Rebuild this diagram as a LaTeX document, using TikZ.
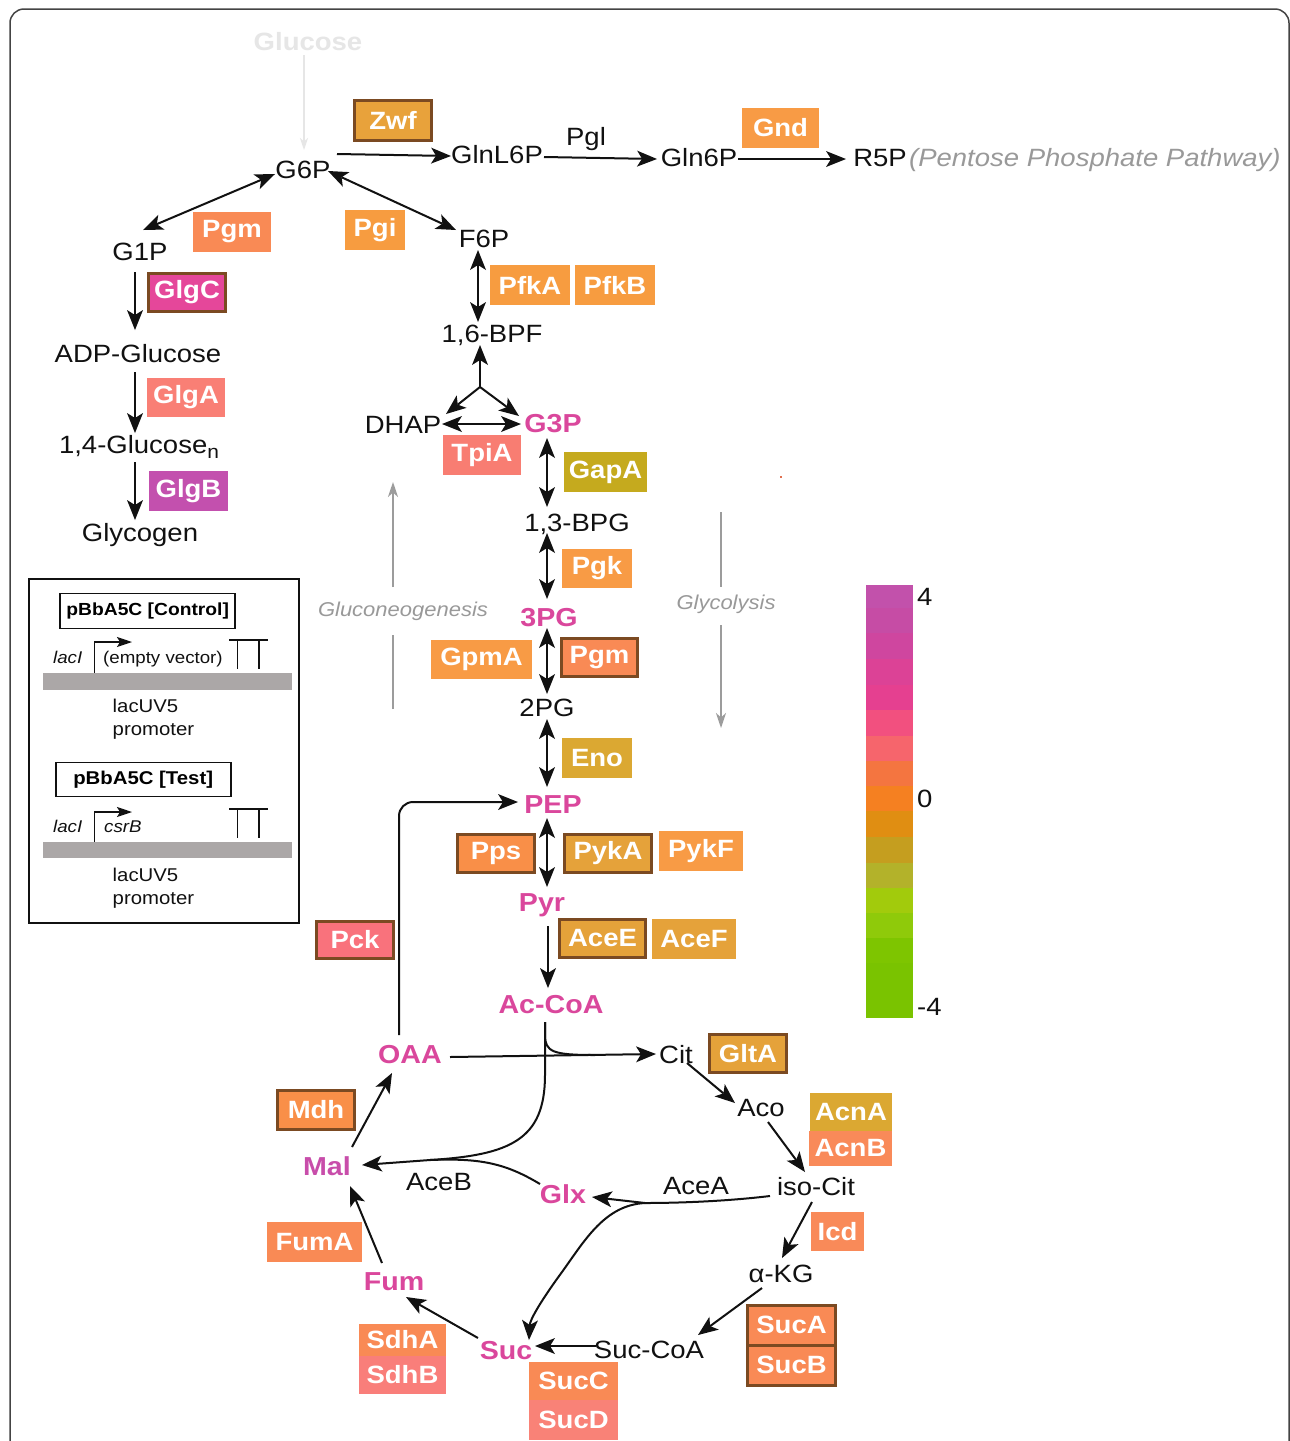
\documentclass[tikz,border=0pt]{standalone}
\usepackage{fontspec}
\setmainfont{Liberation Sans}[FakeStretch=1.1]
\usetikzlibrary{arrows.meta,calc}
\definecolor{brd}{HTML}{7B4A22}
\definecolor{mag}{HTML}{DA479C}
\definecolor{magp}{HTML}{C84DAA}
\definecolor{gtxt}{HTML}{999999}
\definecolor{gline}{HTML}{9C9C9C}
\definecolor{faint}{HTML}{E6E6E6}
\definecolor{ink}{HTML}{111111}
\definecolor{frame}{HTML}{444444}
\definecolor{dnabar}{HTML}{ABA7A7}
\definecolor{cZwf}{HTML}{E8A23B}
\definecolor{cOr}{HTML}{F89B45}
\definecolor{cSal}{HTML}{F98A55}
\definecolor{cPgi}{HTML}{F79C40}
\definecolor{cGlgC}{HTML}{E5479A}
\definecolor{cGlgA}{HTML}{F97F75}
\definecolor{cGlgB}{HTML}{C350AE}
\definecolor{cTpi}{HTML}{F87D72}
\definecolor{cGap}{HTML}{C5AA1E}
\definecolor{cEno}{HTML}{DBA832}
\definecolor{cPps}{HTML}{F98F48}
\definecolor{cGold}{HTML}{E5A23A}
\definecolor{cPck}{HTML}{F9727C}
\definecolor{cAcnB}{HTML}{F98A59}
\definecolor{cSucD}{HTML}{F98277}
\definecolor{cSdhB}{HTML}{F97E7A}
\definecolor{cDot}{HTML}{E07050}
\tikzset{
  met/.style={font=\fontsize{25}{30}\selectfont, text=ink, inner sep=2pt, anchor=base},
  mgt/.style={font=\bfseries\fontsize{26}{30}\selectfont, text=mag, inner sep=2pt, anchor=base},
  gtx/.style={font=\itshape\fontsize{20}{24}\selectfont, text=gtxt, inner sep=2pt, anchor=base},
  enz/.style={font=\bfseries\fontsize{25}{30}\selectfont, text=white, inner sep=0pt, anchor=center},
  bb/.style={draw=brd, line width=3pt},
  hd/.tip={Stealth[length=20pt,width=16pt,inset=5pt,line width=0pt]},
  arr/.style={line width=2pt, draw=ink, -hd},
  darr/.style={line width=2pt, draw=ink, hd-hd},
  ln/.style={line width=2pt, draw=ink},
  garr/.style={line width=2pt, draw=gline, -{Stealth[length=15pt,width=10pt,inset=4.5pt]}},
  gln/.style={line width=2pt, draw=gline},
  small/.style={font=\fontsize{18.5}{22}\selectfont, text=ink, inner sep=0pt},
  ptitle/.style={draw=ink, line width=1.6pt, font=\bfseries\fontsize{17.5}{22}\selectfont, inner sep=0pt},
}
\begin{document}
\begin{tikzpicture}[x=1pt,y=-1pt]
\useasboundingbox (0,0) rectangle (1290,1441);
\clip (0,0) rectangle (1290,1441);
\fill[white] (0,0) rectangle (1290,1441);
\draw[frame, line width=1.5pt, rounded corners=14pt] (10,9) rectangle (1289,1500);

% ---------- metabolites ----------
\node[met, font=\bfseries\fontsize{25}{30}\selectfont, text=faint] (glucose) at (308,50) {Glucose};
\node[met] (g6p) at (303,178) {G6P};
\node[met] (glnl) at (497,163) {GlnL6P};
\node[met] (pgl) at (586,145) {Pgl};
\node[met] (gln6p) at (699,166) {Gln6P};
\node[met] (r5p) at (880,166) {R5P};
\node[met, anchor=base west, inner sep=0pt, text=gtxt, font=\itshape\fontsize{25}{30}\selectfont] (ppp) at (r5p.base east) {(Pentose Phosphate Pathway)};
\node[met] (g1p) at (140,260) {G1P};
\node[met] (f6p) at (484,247) {F6P};
\node[met] (bpf) at (492,342) {1,6-BPF};
\node[met] (adp) at (138,362) {ADP-Glucose};
\node[met] (glc) at (139,453) {1,4-Glucose\raisebox{-5pt}{\fontsize{19}{19}\selectfont n}};
\node[met] (glyc) at (140,541) {Glycogen};
\node[met] (dhap) at (403,433) {DHAP};
\node[mgt] (g3p) at (553,432) {G3P};
\node[met] (bpg) at (577,531) {1,3-BPG};
\node[mgt] (pg3) at (549,626) {3PG};
\node[met] (pg2) at (547,716) {2PG};
\node[mgt] (pep) at (553,813) {PEP};
\node[mgt] (pyr) at (542,911) {Pyr};
\node[mgt] (accoa) at (551,1013) {Ac-CoA};
\node[mgt] (oaa) at (410,1063) {OAA};
\node[met] (cit) at (676,1063) {Cit};
\node[met] (aco) at (761,1116) {Aco};
\node[met] (isocit) at (816,1195) {iso-Cit};
\node[met] (acea) at (696,1194) {AceA};
\node[met] (akg) at (781,1282) {α-KG};
\node[met] (succoa) at (649,1358) {Suc-CoA};
\node[mgt] (suc) at (506,1359) {Suc};
\node[mgt] (fum) at (394,1290) {Fum};
\node[mgt, text=magp] (mal) at (327,1175) {Mal};
\node[met] (aceb) at (439,1190) {AceB};
\node[mgt] (glx) at (563,1203) {Glx};

% ---------- enzyme boxes ----------
\node[enz, bb, fill=cZwf, minimum width=77pt, minimum height=40pt] (zwf) at (393,120.5) {Zwf};
\node[enz, fill=cOr, minimum width=77pt, minimum height=40pt] (gnd) at (780.5,128) {Gnd};
\node[enz, fill=cSal, minimum width=78pt, minimum height=40pt] (pgm1) at (232,232) {Pgm};
\node[enz, fill=cPgi, minimum width=60pt, minimum height=40pt] (pgi) at (375,230) {Pgi};
\node[enz, bb, fill=cGlgC, minimum width=77pt, minimum height=38pt] (glgc) at (187,292.5) {GlgC};
\node[enz, fill=cGlgA, minimum width=78pt, minimum height=39pt] (glga) at (186,397.5) {GlgA};
\node[enz, fill=cGlgB, minimum width=79pt, minimum height=40pt] (glgb) at (188.5,491) {GlgB};
\node[enz, fill=cPgi, minimum width=80pt, minimum height=40pt] (pfka) at (530,285) {PfkA};
\node[enz, fill=cPgi, minimum width=80pt, minimum height=40pt] (pfkb) at (615,285) {PfkB};
\node[enz, fill=cTpi, minimum width=78pt, minimum height=40pt] (tpia) at (482,455) {TpiA};
\node[enz, fill=cGap, minimum width=83pt, minimum height=40pt] (gapa) at (605.5,472) {GapA};
\node[enz, fill=cOr, minimum width=70pt, minimum height=39pt] (pgk) at (597,568.5) {Pgk};
\node[enz, fill=cOr, minimum width=101pt, minimum height=39pt] (gpma) at (481.5,659.5) {GpmA};
\node[enz, bb, fill=cSal, minimum width=76pt, minimum height=38pt] (pgm2) at (599.5,657.5) {Pgm};
\node[enz, fill=cEno, minimum width=70pt, minimum height=40pt] (eno) at (597,758) {Eno};
\node[enz, bb, fill=cPps, minimum width=77pt, minimum height=38pt] (pps) at (496,853.5) {Pps};
\node[enz, bb, fill=cGold, minimum width=87pt, minimum height=38pt] (pyka) at (608,853.5) {PykA};
\node[enz, fill=cOr, minimum width=84pt, minimum height=40pt] (pykf) at (701,851) {PykF};
\node[enz, bb, fill=cGold, minimum width=86pt, minimum height=38pt] (acee) at (602.5,938.5) {AceE};
\node[enz, fill=cGold, minimum width=84pt, minimum height=40pt] (acef) at (694,939) {AceF};
\node[enz, bb, fill=cPck, minimum width=77pt, minimum height=37pt] (pck) at (355,940) {Pck};
\node[enz, bb, fill=cGold, minimum width=77pt, minimum height=38pt] (glta) at (748,1053.5) {GltA};
\node[enz, fill=cEno, minimum width=82pt, minimum height=38pt] (acna) at (851,1112) {AcnA};
\node[enz, fill=cAcnB, minimum width=83pt, minimum height=35pt] (acnb) at (850.5,1148.5) {AcnB};
\node[enz, fill=cAcnB, minimum width=53pt, minimum height=39pt] (icd) at (837.5,1231.5) {Icd};
\node[enz, bb, fill=cSal, minimum width=88pt, minimum height=40pt] (suca) at (791.5,1325) {SucA};
\node[enz, bb, fill=cSal, minimum width=88pt, minimum height=40pt] (sucb) at (791.5,1365) {SucB};
\node[enz, fill=cSal, minimum width=89pt, minimum height=38pt] (succ) at (573.5,1381) {SucC};
\node[enz, fill=cSucD, minimum width=89pt, minimum height=40pt] (sucd) at (573.5,1420) {SucD};
\node[enz, fill=cSal, minimum width=87pt, minimum height=32pt] (sdha) at (402.5,1340) {SdhA};
\node[enz, fill=cSdhB, minimum width=87pt, minimum height=38pt] (sdhb) at (402.5,1375) {SdhB};
\node[enz, fill=cSal, minimum width=95pt, minimum height=40pt] (fuma) at (314.5,1242) {FumA};
\node[enz, bb, fill=cPps, minimum width=77pt, minimum height=39pt] (mdh) at (316,1110) {Mdh};

% ---------- connectors: upper part ----------
\draw[faint, line width=1.5pt, -{Stealth[length=12pt,width=8pt,inset=3.5pt]}] ($(glucose.base)+(-4,5)$) -- ($(g6p.base)+(1,-28)$);
\draw[arr] ($(g6p.base)+(34,-24)$) -- ($(glnl.base)+(-46,-7)$);
\draw[arr] ($(glnl.base)+(47,-6)$) -- ($(gln6p.base)+(-42,-7)$);
\draw[arr] ($(gln6p.base)+(39,-7)$) -- ($(r5p.base)+(-34,-7)$);
\draw[darr] ($(g6p.base)+(-28,-4)$) -- ($(g1p.base)+(3,-30)$);
\draw[darr] ($(g6p.base)+(25,-7)$) -- ($(f6p.base)+(-28,-17)$);
\draw[darr] ($(f6p.base)+(-6,3)$) -- ($(bpf.base)+(-14,-20)$);
\coordinate (jn) at (480,387);
\draw[arr] (jn) -- ($(bpf.base)+(-12,3)$);
\draw[arr] (jn) -- ($(dhap.base)+(43,-19)$);
\draw[arr] (jn) -- ($(g3p.base)+(-34,-16)$);
\draw[darr] ($(dhap.base)+(39,-9)$) -- ($(g3p.base)+(-32,-8)$);
\draw[darr] ($(g3p.base)+(-6,6)$) -- ($(bpg.base)+(-30,-24)$);
\draw[darr] ($(bpg.base)+(-30,2)$) -- ($(pg3.base)+(-2,-27)$);
\draw[darr] ($(pg3.base)+(-2,2)$) -- ($(pg2.base)+(0,-22)$);
\draw[darr] ($(pg2.base)+(0,3)$) -- ($(pep.base)+(-6,-26)$);
\draw[darr] ($(pep.base)+(-6,5)$) -- ($(pyr.base)+(5,-24)$);
\draw[arr] ($(pyr.base)+(6,15)$) -- ($(accoa.base)+(-3,-25)$);
\draw[arr] ($(g1p.base)+(-5,12)$) -- ($(adp.base)+(-3,-32)$);
\draw[arr] ($(adp.base)+(-3,10)$) -- ($(glc.base)+(-4,-20)$);
\draw[arr] ($(glc.base)+(-4,9)$) -- ($(glyc.base)+(-5,-21)$);

% ---------- connectors: TCA ----------
\draw[arr, rounded corners=14pt] ($(oaa.base)+(-11,-28)$) |- ($(pep.base)+(-35,-11)$);
\draw[ln] ($(accoa.base)+(-6,9)$) -- (545,1035) .. controls (545,1052) and (553,1055) .. (595,1055);
\draw[arr] ($(oaa.base)+(40,-6)$) -- ($(cit.base)+(-20,-9)$);
\coordinate (mrg) at (430,1160);
\coordinate (split) at (645,1203);
\draw[arr] ($(accoa.base)+(-6,9)$) -- (545,1075) .. controls (545,1140) and (510,1155) .. (mrg) -- ($(mal.base)+(35,-10)$);
\draw[ln] ($(glx.base)+(-23,-19)$) .. controls (505,1163) and (480,1158) .. (mrg);
\draw[arr] ($(isocit.base)+(-46,1)$) .. controls (720,1202) and (670,1203) .. (split) -- ($(glx.base)+(29,-6)$);
\draw[arr] (split) .. controls (605,1205) and (585,1240) .. (562,1272) .. controls (540,1302) and (530,1320) .. ($(suc.base)+(23,-19)$);
\draw[arr] ($(mal.base)+(25,-28)$) -- ($(oaa.base)+(-18,10)$);
\draw[arr] ($(fum.base)+(-12,-27)$) -- ($(mal.base)+(23,11)$);
\draw[arr] ($(suc.base)+(-28,-21)$) -- ($(fum.base)+(12,7)$);
\draw[arr] ($(succoa.base)+(-53,-12)$) -- ($(suc.base)+(29,-13)$);
\draw[arr] ($(akg.base)+(-19,6)$) -- ($(succoa.base)+(49,-23)$);
\draw[arr] ($(isocit.base)+(-4,7)$) -- ($(akg.base)+(1,-24)$);
\draw[arr] ($(aco.base)+(7,6)$) -- ($(isocit.base)+(-11,-23)$);
\draw[arr] ($(cit.base)+(11,0)$) -- ($(aco.base)+(-26,-13)$);

% ---------- direction labels ----------
\node[gtx] (gng) at (403,616) {Gluconeogenesis};
\coordinate (gngtop) at (393,482);
\coordinate (gngbot) at (393,709);
\draw[garr] ($(gng.base)+(-10,-29)$) -- (gngtop);
\draw[gln] (gngbot) -- ($(gng.base)+(-10,19)$);
\node[gtx] (gly) at (726,609) {Glycolysis};
\coordinate (glytop) at (721,512);
\coordinate (glybot) at (721,728);
\draw[gln] (glytop) -- ($(gly.base)+(-5,-22)$);
\draw[garr] ($(gly.base)+(-5,16)$) -- (glybot);
\fill[cDot] (780,476) rectangle (782,478);

% ---------- colour bar ----------
\foreach \ya/\yb/\cc in {585/608/C251AB, 608/633/C64CA5, 633/659/CF469F, 659/685/DC4296, 685/710/E54090, 710/736/F2507F, 736/761/F6656C, 761/786/F47540, 786/811/F58021, 811/837/E08E12, 837/863/C59E1F, 863/888/B3B22A, 888/913/A2CB0C, 913/938/8FCA0A, 938/963/7EC500, 963/1018/7AC300}{
  \definecolor{bandc}{HTML}{\cc}
  \fill[bandc] (866,\ya) rectangle (913,\yb);
}
\node[met, anchor=base west, inner sep=0pt] (l4) at (917,605) {4};
\node[met, anchor=base west, inner sep=0pt] (l0) at (917,807) {0};
\node[met, anchor=base west, inner sep=0pt] (lm4) at (917,1015) {-4};

% ---------- inset ----------
\draw[ink, line width=1.5pt] (29,579) rectangle (299,923);
\node[ptitle, minimum width=175pt, minimum height=35pt] (ctl) at (147.7,611) {pBbA5C [Control]};
\node[small, anchor=base west, font=\itshape\fontsize{17}{20}\selectfont] (laci1) at (53,663) {lacI};
\node[small, anchor=base west, font=\fontsize{17}{20}\selectfont] (empty) at (103,663) {(empty vector)};
\draw[ink, line width=1.5pt, -{Stealth[length=15pt,width=10pt,inset=3pt]}] (94.5,673) |- (132,642);
\draw[ink, line width=1.8pt] (229,640) -- (268,640) (237.5,640) -- (237.5,669) (259,640) -- (259,669);
\fill[dnabar] (43,673) rectangle (292,690);
\node[small, anchor=base west] (uv1) at (112.5,712) {lacUV5};
\node[small, anchor=base west] (pr1) at (112.5,735) {promoter};

\node[ptitle, font=\bfseries\fontsize{18.5}{22}\selectfont, minimum width=175pt, minimum height=34pt] (tst) at (143.2,779.5) {pBbA5C [Test]};
\node[small, anchor=base west, font=\itshape\fontsize{17}{20}\selectfont] (laci2) at (53,832) {lacI};
\node[small, anchor=base west, font=\itshape\fontsize{17}{20}\selectfont] (csrb) at (104,832) {csrB};
\draw[ink, line width=1.5pt, -{Stealth[length=15pt,width=10pt,inset=3pt]}] (94.5,842) |- (132,812);
\draw[ink, line width=1.8pt] (229,809) -- (268,809) (237.5,809) -- (237.5,838) (259,809) -- (259,838);
\fill[dnabar] (43,842) rectangle (292,858);
\node[small, anchor=base west] (uv2) at (112.5,881) {lacUV5};
\node[small, anchor=base west] (pr2) at (112.5,904) {promoter};
\end{tikzpicture}
\end{document}
